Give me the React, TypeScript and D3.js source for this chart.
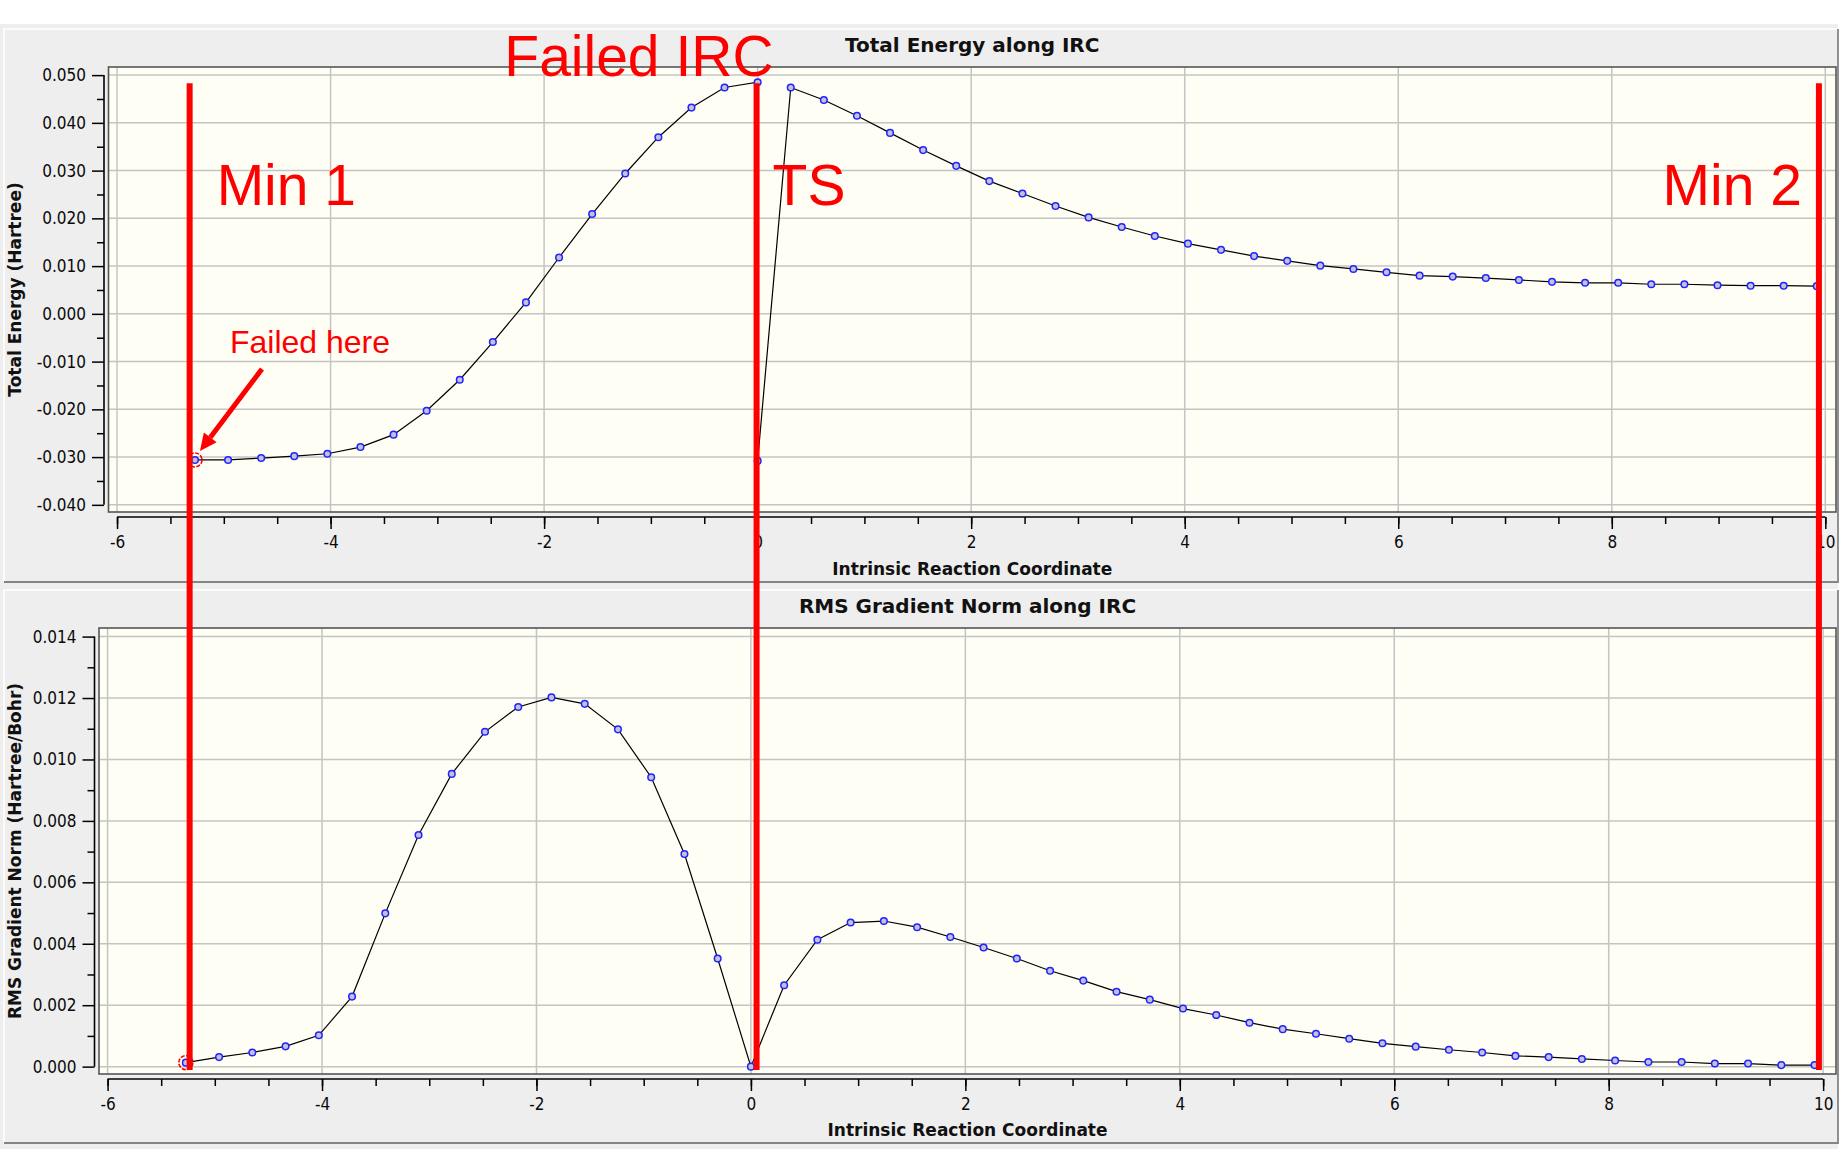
import React, { useRef, useEffect } from "react";
import * as d3 from "d3";

const W = 1842;
const H = 1149;

// IRC coordinate of every point, reverse branch (Min 1 -> TS) and forward branch (TS -> Min 2)
const reverseIrc = [
  -5.27, -4.96, -4.65, -4.34, -4.03, -3.72, -3.41, -3.1, -2.79, -2.48, -2.17,
  -1.86, -1.55, -1.24, -0.93, -0.62, -0.31, 0.0,
];
const forwardIrc = [
  0.31, 0.62, 0.93, 1.24, 1.55, 1.86, 2.17, 2.48, 2.79, 3.1, 3.41, 3.72, 4.03,
  4.34, 4.65, 4.96, 5.27, 5.58, 5.89, 6.2, 6.51, 6.82, 7.13, 7.44, 7.75, 8.06,
  8.37, 8.68, 8.99, 9.3, 9.61, 9.92,
];

// Total energy (Hartree)
const reverseEnergy = [
  -0.0306, -0.0306, -0.0302, -0.0298, -0.0293, -0.0279, -0.0253, -0.0203,
  -0.0138, -0.0059, 0.0024, 0.0118, 0.0209, 0.0294, 0.037, 0.0432, 0.0474,
  0.0485,
];
const failedIrc = 0.0;
const failedEnergy = -0.0308;
const forwardEnergy = [
  0.0474, 0.0448, 0.0415, 0.0379, 0.0343, 0.031, 0.0278, 0.0252, 0.0226,
  0.0202, 0.0182, 0.0163, 0.0147, 0.0134, 0.0121, 0.0111, 0.0101, 0.0094,
  0.0087, 0.008, 0.0078, 0.0075, 0.0071, 0.0067, 0.0065, 0.0065, 0.0062,
  0.0062, 0.006, 0.0059, 0.0059, 0.0058,
];

// RMS gradient norm (Hartree/Bohr)
const reverseGradient = [
  0.00013, 0.00031, 0.00046, 0.00066, 0.00102, 0.00228, 0.00499, 0.00754,
  0.00953, 0.0109, 0.01171, 0.01202, 0.01181, 0.01098, 0.00942, 0.00692,
  0.00352, 0.0,
];
const forwardGradient = [
  0.00265, 0.00413, 0.00469, 0.00474, 0.00454, 0.00422, 0.00388, 0.00352,
  0.00312, 0.0028, 0.00244, 0.00218, 0.00189, 0.00168, 0.00143, 0.00122,
  0.00107, 0.00091, 0.00076, 0.00065, 0.00055, 0.00046, 0.00035, 0.00031,
  0.00025, 0.0002, 0.00015, 0.00015, 0.0001, 0.0001, 0.00005, 0.00005,
];

const xTicks = [-6, -4, -2, 0, 2, 4, 6, 8, 10];
const energyTicks = [
  -0.04, -0.03, -0.02, -0.01, 0, 0.01, 0.02, 0.03, 0.04, 0.05,
];
const gradientTicks = [0, 0.002, 0.004, 0.006, 0.008, 0.01, 0.012, 0.014];

const stations = [
  { label: "Min 1", irc: -5.32, dx: 27, anchor: "start" },
  { label: "TS", irc: -0.01, dx: 16, anchor: "start" },
  { label: "Min 2", irc: 9.94, dx: -17, anchor: "end" },
];

type Pt = { irc: number; v: number };

const energyPoints: Pt[] = [
  ...reverseIrc.map((irc, i) => ({ irc, v: reverseEnergy[i] })),
  { irc: failedIrc, v: failedEnergy },
  ...forwardIrc.map((irc, i) => ({ irc, v: forwardEnergy[i] })),
];
const gradientPoints: Pt[] = [
  ...reverseIrc.map((irc, i) => ({ irc, v: reverseGradient[i] })),
  ...forwardIrc.map((irc, i) => ({ irc, v: forwardGradient[i] })),
];

const TICK_FONT = "'DejaVu Sans Condensed', 'DejaVu Sans', sans-serif";
const BOLD_FONT = "'DejaVu Sans', sans-serif";
const RED_FONT = "'Liberation Sans', Arial, sans-serif";
const RED = "#ff0000";

interface PanelSpec {
  title: string;
  xLabel: string;
  yLabel: string;
  points: Pt[];
  yTicks: number[];
  xDomain: [number, number];
  yDomain: [number, number];
  box: { x: number; y: number; w: number; h: number };
  plot: { left: number; right: number; top: number; bottom: number };
  yAxisX: number;
  xAxisY: number;
  titleY: number;
  xLabelY: number;
}

const energyPanel: PanelSpec = {
  title: "Total Energy along IRC",
  xLabel: "Intrinsic Reaction Coordinate",
  yLabel: "Total Energy (Hartree)",
  points: energyPoints,
  yTicks: energyTicks,
  xDomain: [-6.08, 10.1],
  yDomain: [-0.0415, 0.0517],
  box: { x: 4, y: 29, w: 1834, h: 553 },
  plot: { left: 108.5, right: 1836, top: 67, bottom: 512 },
  yAxisX: 104,
  xAxisY: 517,
  titleY: 52,
  xLabelY: 575,
};

const gradientPanel: PanelSpec = {
  title: "RMS Gradient Norm along IRC",
  xLabel: "Intrinsic Reaction Coordinate",
  yLabel: "RMS Gradient Norm (Hartree/Bohr)",
  points: gradientPoints,
  yTicks: gradientTicks,
  xDomain: [-6.08, 10.12],
  yDomain: [-0.00024, 0.01428],
  box: { x: 4, y: 590, w: 1834, h: 553 },
  plot: { left: 99, right: 1836, top: 628, bottom: 1074 },
  yAxisX: 94.5,
  xAxisY: 1079,
  titleY: 613,
  xLabelY: 1136,
};

type Sel = d3.Selection<SVGSVGElement, unknown, null, undefined>;

function drawPanel(svg: Sel, p: PanelSpec) {
  const { box, plot } = p;
  const g = svg.append("g");

  // bevelled panel
  g.append("rect")
    .attr("x", box.x)
    .attr("y", box.y)
    .attr("width", box.w)
    .attr("height", box.h)
    .attr("fill", "#eeeeee");
  g.append("path")
    .attr("d", `M${box.x},${box.y + box.h} V${box.y} H${box.x + box.w}`)
    .attr("fill", "none")
    .attr("stroke", "#ffffff")
    .attr("stroke-width", 1.5);
  g.append("path")
    .attr("d", `M${box.x},${box.y + box.h} H${box.x + box.w} V${box.y}`)
    .attr("fill", "none")
    .attr("stroke", "#858585")
    .attr("stroke-width", 1.8);

  const x = d3.scaleLinear().domain(p.xDomain).range([plot.left, plot.right]);
  const y = d3.scaleLinear().domain(p.yDomain).range([plot.bottom, plot.top]);

  g.append("rect")
    .attr("x", plot.left)
    .attr("y", plot.top)
    .attr("width", plot.right - plot.left)
    .attr("height", plot.bottom - plot.top)
    .attr("fill", "#fefef5");

  // grid
  g.append("g")
    .selectAll("line")
    .data(xTicks)
    .enter()
    .append("line")
    .attr("x1", (d) => x(d))
    .attr("x2", (d) => x(d))
    .attr("y1", plot.top)
    .attr("y2", plot.bottom)
    .attr("stroke", "#c4c4c4")
    .attr("stroke-width", 1.5);
  g.append("g")
    .selectAll("line")
    .data(p.yTicks)
    .enter()
    .append("line")
    .attr("x1", plot.left)
    .attr("x2", plot.right)
    .attr("y1", (d) => y(d))
    .attr("y2", (d) => y(d))
    .attr("stroke", "#c4c4c4")
    .attr("stroke-width", 1.5);

  g.append("rect")
    .attr("x", plot.left)
    .attr("y", plot.top)
    .attr("width", plot.right - plot.left)
    .attr("height", plot.bottom - plot.top)
    .attr("fill", "none")
    .attr("stroke", "#555")
    .attr("stroke-width", 1.6);

  // y axis: major + minor ticks
  const yMinor = d3.pairs(p.yTicks).map(([a, b]) => (a + b) / 2);
  const yAxis = g
    .append("g")
    .attr("transform", `translate(${p.yAxisX},0)`)
    .call(
      d3
        .axisLeft(y)
        .tickValues(p.yTicks)
        .tickSize(12)
        .tickPadding(6)
        .tickFormat((d) => (d as number).toFixed(3)),
    );
  g.append("g")
    .attr("transform", `translate(${p.yAxisX},0)`)
    .call(d3.axisLeft(y).tickValues(yMinor).tickSize(7).tickFormat(() => ""))
    .call((a) => a.select(".domain").remove())
    .attr("color", "#000")
    .selectAll("line")
    .attr("stroke-width", 1.5);
  yAxis.select(".domain").remove();
  yAxis.attr("color", "#000").selectAll("line").attr("stroke-width", 1.5);
  yAxis
    .selectAll("text")
    .attr("font-family", TICK_FONT)
    .attr("font-size", 17)
    .attr("fill", "#0a0a0a");
  g.append("line")
    .attr("x1", p.yAxisX)
    .attr("x2", p.yAxisX)
    .attr("y1", y(p.yTicks[0]))
    .attr("y2", y(p.yTicks[p.yTicks.length - 1]))
    .attr("stroke", "#000")
    .attr("stroke-width", 1.6);

  // x axis: major every 2, minor every 0.5
  const xMinor = d3.range(xTicks[0], xTicks[xTicks.length - 1] + 0.01, 0.5);
  g.append("g")
    .attr("transform", `translate(0,${p.xAxisY})`)
    .call(d3.axisBottom(x).tickValues(xMinor).tickSize(7).tickFormat(() => ""))
    .call((a) => a.select(".domain").remove())
    .attr("color", "#000")
    .selectAll("line")
    .attr("stroke-width", 1.5);
  const xAxis = g
    .append("g")
    .attr("transform", `translate(0,${p.xAxisY})`)
    .call(
      d3
        .axisBottom(x)
        .tickValues(xTicks)
        .tickSize(12)
        .tickPadding(7)
        .tickFormat((d) => String(d)),
    );
  xAxis.select(".domain").remove();
  xAxis.attr("color", "#000").selectAll("line").attr("stroke-width", 1.5);
  xAxis
    .selectAll("text")
    .attr("font-family", TICK_FONT)
    .attr("font-size", 17)
    .attr("fill", "#0a0a0a");
  g.append("line")
    .attr("x1", x(xTicks[0]))
    .attr("x2", x(xTicks[xTicks.length - 1]))
    .attr("y1", p.xAxisY)
    .attr("y2", p.xAxisY)
    .attr("stroke", "#000")
    .attr("stroke-width", 1.6);

  // titles
  const cx = (plot.left + plot.right) / 2;
  g.append("text")
    .attr("x", cx)
    .attr("y", p.titleY)
    .attr("text-anchor", "middle")
    .attr("font-family", BOLD_FONT)
    .attr("font-weight", "bold")
    .attr("font-size", 20)
    .attr("fill", "#111")
    .text(p.title);
  g.append("text")
    .attr("x", cx)
    .attr("y", p.xLabelY)
    .attr("text-anchor", "middle")
    .attr("font-family", BOLD_FONT)
    .attr("font-weight", "bold")
    .attr("font-size", 17)
    .attr("fill", "#111")
    .text(p.xLabel);
  g.append("text")
    .attr(
      "transform",
      `translate(21,${(plot.top + plot.bottom) / 2}) rotate(-90)`,
    )
    .attr("text-anchor", "middle")
    .attr("font-family", BOLD_FONT)
    .attr("font-weight", "bold")
    .attr("font-size", 17)
    .attr("fill", "#111")
    .text(p.yLabel);

  // series
  const line = d3
    .line<Pt>()
    .x((d) => x(d.irc))
    .y((d) => y(d.v));
  g.append("path")
    .datum(p.points)
    .attr("fill", "none")
    .attr("stroke", "#000")
    .attr("stroke-width", 1.2)
    .attr("d", line);
  g.append("g")
    .selectAll("circle")
    .data(p.points)
    .enter()
    .append("circle")
    .attr("cx", (d) => x(d.irc))
    .attr("cy", (d) => y(d.v))
    .attr("r", 3.3)
    .attr("fill", "#c2c2d6")
    .attr("stroke", "#2222ff")
    .attr("stroke-width", 1.5);

  // red ring on the starting point
  const first = p.points[0];
  g.append("circle")
    .attr("cx", x(first.irc))
    .attr("cy", y(first.v))
    .attr("r", 7)
    .attr("fill", "none")
    .attr("stroke", RED)
    .attr("stroke-width", 1.6)
    .attr("stroke-dasharray", "4,1.5");

  return { x, y, first: [x(first.irc), y(first.v)] as [number, number] };
}

type PanelScales = ReturnType<typeof drawPanel>;

function drawAnnotations(svg: Sel, top: PanelScales, bot: PanelScales) {
  const g = svg.append("g");
  const y0 = top.y(0.0483);
  const y1 = bot.y(-0.00011);

  stations.forEach((s) => {
    const sx = top.x(s.irc);
    g.append("line")
      .attr("x1", sx)
      .attr("x2", sx)
      .attr("y1", y0)
      .attr("y2", y1)
      .attr("stroke", RED)
      .attr("stroke-width", 6);
    g.append("text")
      .attr("x", sx + s.dx)
      .attr("y", 205)
      .attr("text-anchor", s.anchor)
      .attr("font-family", RED_FONT)
      .attr("font-size", 57)
      .attr("fill", RED)
      .text(s.label);
  });

  const tsX = top.x(stations[1].irc);
  g.append("text")
    .attr("x", tsX + 17)
    .attr("y", 76)
    .attr("text-anchor", "end")
    .attr("font-family", RED_FONT)
    .attr("font-size", 57)
    .attr("fill", RED)
    .text("Failed IRC");

  // "Failed here" arrow pointing at the first energy point
  const [px, py] = top.first;
  const tip: [number, number] = [px + 5, py - 9];
  const tail: [number, number] = [px + 67, py - 91];
  const dx = tip[0] - tail[0];
  const dy = tip[1] - tail[1];
  const len = Math.hypot(dx, dy);
  const ux = dx / len;
  const uy = dy / len;
  const headLen = 17;
  const headW = 8;
  const base: [number, number] = [tip[0] - ux * headLen, tip[1] - uy * headLen];
  g.append("line")
    .attr("x1", tail[0])
    .attr("y1", tail[1])
    .attr("x2", base[0])
    .attr("y2", base[1])
    .attr("stroke", RED)
    .attr("stroke-width", 5);
  g.append("path")
    .attr(
      "d",
      `M${tip[0]},${tip[1]} L${base[0] - uy * headW},${base[1] + ux * headW} L${base[0] + uy * headW},${base[1] - ux * headW} Z`,
    )
    .attr("fill", RED);
  g.append("text")
    .attr("x", px + 35)
    .attr("y", py - 107)
    .attr("font-family", RED_FONT)
    .attr("font-size", 32)
    .attr("fill", RED)
    .text("Failed here");
}

export default function App() {
  const svgRef = useRef<SVGSVGElement>(null);

  useEffect(() => {
    if (!svgRef.current) return;
    const svg = d3.select(svgRef.current);
    svg.selectAll("*").remove();

    svg.append("rect").attr("width", W).attr("height", H).attr("fill", "#fff");
    svg
      .append("rect")
      .attr("x", 0)
      .attr("y", 24)
      .attr("width", 1838)
      .attr("height", H - 24)
      .attr("fill", "#eeeeee");

    const top = drawPanel(svg, energyPanel);
    const bot = drawPanel(svg, gradientPanel);
    drawAnnotations(svg, top, bot);
  }, []);

  return (
    <div style={{ position: "absolute", left: 0, top: 0 }}>
      <svg ref={svgRef} width={W} height={H} style={{ display: "block" }} />
    </div>
  );
}
